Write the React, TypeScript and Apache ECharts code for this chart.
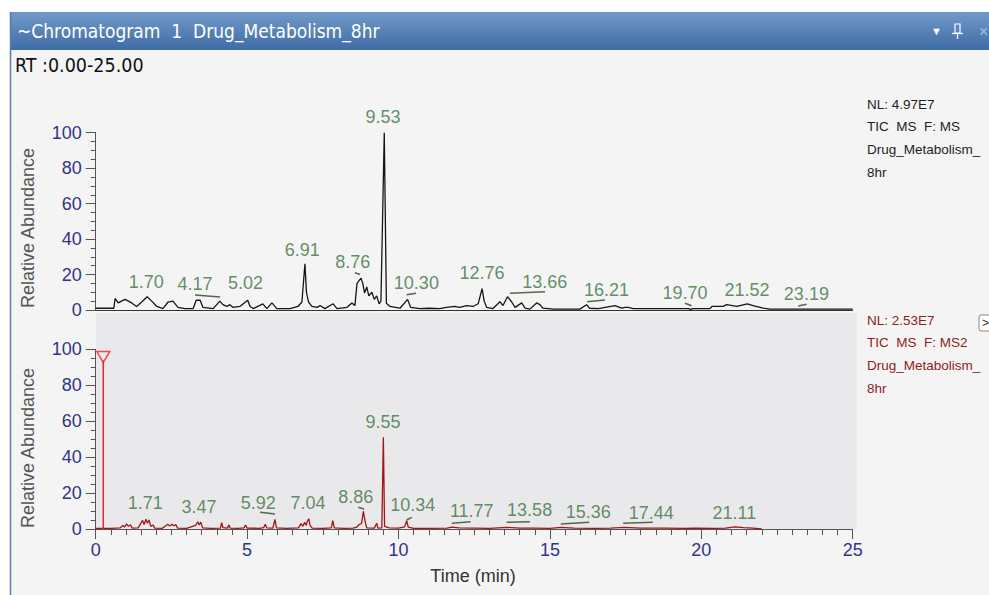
import React, { useEffect, useRef } from "react";
import * as echarts from "echarts";

// ---------- data ----------
const topTrace: [number, number][] = [
  [0.0, 1], [0.6, 1], [0.64, 6.5], [0.74, 4], [0.97, 6], [1.19, 4], [1.35, 2], [1.52, 4.5],
  [1.7, 7.5], [1.85, 5], [2.02, 2], [2.22, 0.8], [2.39, 4.5], [2.55, 5], [2.72, 1.5], [2.95, 0.8],
  [3.22, 0.8], [3.32, 5.5], [3.45, 5.5], [3.54, 1.5], [3.88, 0.8], [4.1, 5], [4.2, 3], [4.33, 2],
  [4.43, 3], [4.53, 1.5], [4.76, 2], [5.02, 5.5], [5.1, 2], [5.2, 0.8], [5.52, 3.5], [5.65, 0.8],
  [5.82, 4], [5.98, 0.8], [6.42, 0.8], [6.68, 2], [6.81, 4.5], [6.91, 26], [6.96, 10], [7.03, 4.5],
  [7.14, 2], [7.31, 1.5], [7.41, 2.5], [7.57, 0.8], [7.84, 3.5], [7.97, 0.8], [8.3, 1.5], [8.46, 4],
  [8.56, 2.5], [8.63, 15], [8.76, 18], [8.82, 15], [8.88, 9.5], [8.95, 13], [9.02, 8], [9.12, 10],
  [9.2, 6], [9.28, 8], [9.36, 3.5], [9.42, 5], [9.53, 100], [9.6, 3.8], [9.72, 2], [9.9, 1.5],
  [10.05, 1], [10.3, 6], [10.4, 1.5], [10.71, 0.8], [11.0, 1], [11.37, 0.8], [11.58, 1.5], [11.86, 2],
  [12.02, 1.5], [12.25, 2.5], [12.46, 2], [12.63, 3.5], [12.76, 12], [12.83, 5], [12.91, 1.5], [13.12, 0.8],
  [13.35, 4.7], [13.45, 2.5], [13.6, 7.5], [13.74, 4.5], [13.85, 1.5], [14.07, 4], [14.18, 1], [14.34, 0.5],
  [14.56, 4], [14.67, 3], [14.77, 1], [15.11, 0.5], [15.55, 0.5], [15.99, 0.5], [16.21, 3], [16.31, 1],
  [16.6, 0.8], [17.15, 2.5], [17.37, 1], [17.48, 1.5], [17.59, 1.5], [17.75, 0.8], [19.6, 0.8], [19.65, 0],
  [19.7, 0.8], [20.29, 0.8], [20.35, 2], [20.72, 2], [20.84, 3], [21.17, 2], [21.52, 3.5], [21.71, 2.5],
  [22.04, 1], [22.27, 0.5], [25.0, 0.5],
];

const bottomTrace: [number, number][] = [
  [0, 0.3], [0.3, 0.4], [0.5, 0.3], [0.8, 0.6], [0.9, 2.0], [0.95, 1.0], [1.02, 2.8], [1.08, 1.5],
  [1.15, 2.4], [1.2, 0.5], [1.4, 0.6], [1.55, 4.8], [1.6, 2.5], [1.66, 5.5], [1.71, 3.2], [1.76, 5.0],
  [1.82, 1.5], [1.9, 2.2], [1.95, 0.5], [2.2, 0.4], [2.38, 2.6], [2.45, 1.6], [2.52, 2.6], [2.58, 1.8],
  [2.65, 2.4], [2.7, 0.5], [3.0, 0.4], [3.3, 2.0], [3.37, 4.0], [3.42, 2.2], [3.47, 3.8], [3.53, 0.6],
  [3.8, 0.4], [4.12, 0.5], [4.16, 3.6], [4.2, 0.8], [4.35, 0.5], [4.4, 2.3], [4.44, 0.5], [4.7, 0.4],
  [4.9, 0.6], [4.95, 2.2], [5.0, 0.5], [5.4, 0.4], [5.55, 0.8], [5.6, 2.6], [5.65, 0.6], [5.85, 0.5],
  [5.92, 5.4], [5.97, 0.6], [6.3, 0.4], [6.7, 0.6], [6.78, 3.0], [6.84, 1.5], [6.9, 3.8], [6.95, 2.0],
  [7.0, 4.8], [7.04, 5.6], [7.08, 2.0], [7.15, 0.5], [7.5, 0.4], [7.78, 0.6], [7.83, 4.6], [7.88, 0.6],
  [8.2, 0.4], [8.5, 0.5], [8.62, 1.0], [8.7, 2.5], [8.78, 3.0], [8.84, 9.8], [8.9, 4.0], [8.95, 0.6],
  [9.2, 0.5], [9.28, 3.2], [9.32, 0.5], [9.45, 0.6], [9.5, 51], [9.54, 1.5], [9.7, 0.6], [10.0, 0.5],
  [10.2, 1.2], [10.27, 4.6], [10.32, 1.0], [10.5, 0.4], [11.0, 0.4], [11.6, 0.5], [11.77, 1.0], [12.0, 0.6],
  [12.5, 0.5], [13.0, 0.4], [13.58, 0.9], [14.0, 0.5], [14.5, 0.5], [15.0, 0.4], [15.36, 0.9], [15.8, 0.5],
  [16.5, 0.4], [17.0, 0.5], [17.44, 0.9], [18.0, 0.5], [18.8, 0.5], [19.4, 0.4], [19.8, 0.5], [20.4, 0.4],
  [20.8, 0.5], [21.11, 1.2], [21.4, 0.8], [21.7, 0.5], [22.0, 0.0],
];

const topLabelText = ["1.70", "4.17", "5.02", "6.91", "8.76", "9.53", "10.30", "12.76", "13.66", "16.21", "19.70", "21.52", "23.19"];
const topLabelX = [1.67, 3.28, 4.95, 6.82, 8.49, 9.49, 10.59, 12.76, 14.83, 16.87, 19.46, 21.51, 23.47];
const topLabelY = [16.0, 14.7, 15.4, 33.8, 26.9, 108.9, 15.4, 20.7, 16.0, 11.3, 9.8, 11.3, 9.0];

const bottomLabelText = ["1.71", "3.47", "5.92", "7.04", "8.86", "9.55", "10.34", "11.77", "13.58", "15.36", "17.44", "21.11"];
const bottomLabelX = [1.64, 3.41, 5.37, 7.01, 8.59, 9.49, 10.47, 12.42, 14.33, 16.27, 18.35, 21.09];
const bottomLabelY = [14.3, 12.4, 14.6, 14.6, 18.0, 59.4, 13.4, 10.2, 10.6, 9.6, 8.7, 9.1];

// baseline-annotation segments [t1, v1, t2, v2]
const topUnderlines = [
  [8.56, 21, 8.73, 20], [3.28, 8.5, 4.11, 7.3], [10.27, 8.6, 10.58, 9.4], [13.68, 9.4, 14.84, 10.3],
  [16.23, 4.7, 16.82, 5.6], [19.46, 3.8, 19.68, 2.4], [23.2, 2.3, 23.48, 3.2],
];
const bottomUnderlines = [
  [5.43, 9.3, 5.92, 8.3], [8.67, 12.1, 8.86, 11.1], [10.27, 5.0, 10.44, 6.5], [11.76, 3.2, 12.38, 4.1],
  [13.57, 3.7, 14.34, 4.1], [15.36, 2.8, 16.3, 3.7], [17.42, 3.2, 18.4, 3.7],
];

const markerRT = 0.25;
const markerTop = 95.7;

const topInfo = ["NL: 4.97E7", "TIC  MS  F: MS", "Drug_Metabolism_", "8hr"];
const bottomInfo = ["NL: 2.53E7", "TIC  MS  F: MS2", "Drug_Metabolism_", "8hr"];
const titleText = "~Chromatogram  1  Drug_Metabolism_8hr";
const rangeText = "RT :0.00-25.00";

// ---------- styles ----------
const FONT = "'Liberation Sans', Arial, sans-serif";
const NARROW = "'Liberation Sans Narrow', 'DejaVu Sans Condensed', 'Liberation Sans', sans-serif";
const NAVY = "#33338a";
const PEAK = "#3b7340";

export default function App() {
  const ref = useRef<HTMLDivElement>(null);
  useEffect(() => {
    if (!ref.current) return;
    const chart = echarts.init(ref.current, null, { renderer: "svg" });

    const gridL = 95.7;
    const gridW = 757;
    const baseX = {
      type: "value",
      min: 0,
      max: 25,
      interval: 5,
      splitLine: { show: false },
    };
    const baseY = {
      type: "value",
      min: 0,
      max: 100,
      interval: 20,
      splitLine: { show: false },
      axisLine: { show: true, lineStyle: { color: "#555", width: 1 } },
      axisTick: { show: true, length: 10, lineStyle: { color: "#555" } },
      minorTick: { show: true, splitNumber: 4, length: 5, lineStyle: { color: "#555" } },
      axisLabel: { color: NAVY, fontSize: 18, fontFamily: FONT, margin: 14 },
    };

    const labelSeries = (xs: number[], ys: number[], texts: string[], idx: number) => ({
      type: "scatter",
      xAxisIndex: idx,
      yAxisIndex: idx,
      silent: true,
      clip: false,
      symbolSize: 1,
      itemStyle: { color: "transparent" },
      z: 5,
      data: xs.map((x, i) => ({ value: [x, ys[i]], name: texts[i] })),
      label: {
        show: true,
        position: "inside",
        formatter: "{b}",
        color: PEAK,
        fontSize: 18,
        fontFamily: FONT,
        align: "center",
        verticalAlign: "middle",
      },
    });

    const underlineSeries = (segs: number[][], idx: number) => ({
      type: "lines",
      coordinateSystem: "cartesian2d",
      xAxisIndex: idx,
      yAxisIndex: idx,
      silent: true,
      lineStyle: { color: "#56664a", width: 1.5, opacity: 1 },
      data: segs.map((s) => ({ coords: [[s[0], s[1]], [s[2], s[3]]] })),
    });

    const info = (lines: string[], y0: number, color: string) =>
      lines.map((t, i) => ({
        type: "text",
        x: 867,
        y: y0 + i * 22.7,
        z: 10,
        style: { text: t, fill: color, fontSize: 13.5, fontFamily: FONT, verticalAlign: "middle", align: "left" },
      }));

    const option: any = {
      animation: false,
      backgroundColor: "#ffffff",
      grid: [
        { left: gridL, top: 132.7, width: gridW, height: 177.3 },
        { left: gridL, top: 349.3, width: gridW, height: 179.7 },
      ],
      xAxis: [
        {
          ...baseX,
          gridIndex: 0,
          axisLine: { show: true, lineStyle: { color: "#333", width: 1 } },
          axisTick: { show: false },
          axisLabel: { show: false },
        },
        {
          ...baseX,
          gridIndex: 1,
          axisLine: { show: true, lineStyle: { color: "#555", width: 1 } },
          axisTick: { show: true, length: 10, lineStyle: { color: "#555" } },
          minorTick: { show: true, splitNumber: 10, length: 6, lineStyle: { color: "#555" } },
          axisLabel: { color: NAVY, fontSize: 18, fontFamily: FONT, margin: 12 },
        },
      ],
      yAxis: [
        { ...baseY, gridIndex: 0 },
        { ...baseY, gridIndex: 1 },
      ],
      graphic: [
        { type: "rect", z: -20, shape: { x: 10, y: 12, width: 979, height: 583 }, style: { fill: "#f4f4f4" } },
        { type: "rect", z: -19, shape: { x: 96, y: 313, width: 761, height: 216 }, style: { fill: "#e9e9eb" } },
        {
          type: "rect",
          z: -18,
          shape: { x: 10, y: 12, width: 979, height: 38 },
          style: {
            fill: new echarts.graphic.LinearGradient(0, 0, 0, 1, [
              { offset: 0, color: "#7299c9" },
              { offset: 1, color: "#3f6ca5" },
            ]),
          },
        },
        { type: "line", z: -17, shape: { x1: 10.5, y1: 12, x2: 10.5, y2: 595 }, style: { stroke: "#5a7cab", lineWidth: 1.5 } },
        {
          type: "text",
          x: 17,
          y: 31,
          z: 10,
          style: { text: titleText, fill: "#ffffff", fontSize: 19, fontFamily: NARROW, verticalAlign: "middle" },
        },
        { type: "text", x: 931, y: 31, z: 10, style: { text: "▼", fill: "#ffffff", fontSize: 11, fontFamily: FONT, verticalAlign: "middle" } },
        { type: "rect", z: 10, shape: { x: 955, y: 24, width: 5, height: 9 }, style: { fill: "none", stroke: "#ffffff", lineWidth: 1.2 } },
        { type: "line", z: 10, shape: { x1: 952, y1: 33.5, x2: 963, y2: 33.5 }, style: { stroke: "#ffffff", lineWidth: 1.2 } },
        { type: "line", z: 10, shape: { x1: 957.5, y1: 33.5, x2: 957.5, y2: 39 }, style: { stroke: "#ffffff", lineWidth: 1.2 } },
        { type: "text", x: 979, y: 31, z: 10, style: { text: "×", fill: "#a9bfdc", fontSize: 16, fontFamily: FONT, verticalAlign: "middle" } },
        {
          type: "text",
          x: 15,
          y: 65,
          z: 10,
          style: { text: rangeText, fill: "#111", fontSize: 19.5, fontFamily: NARROW, verticalAlign: "middle" },
        },
        {
          type: "text",
          x: 27.5,
          y: 228,
          rotation: Math.PI / 2,
          z: 10,
          style: { text: "Relative Abundance", fill: "#555", fontSize: 18, fontFamily: FONT, align: "center", verticalAlign: "middle" },
        },
        {
          type: "text",
          x: 27.5,
          y: 448,
          rotation: Math.PI / 2,
          z: 10,
          style: { text: "Relative Abundance", fill: "#555", fontSize: 18, fontFamily: FONT, align: "center", verticalAlign: "middle" },
        },
        {
          type: "text",
          x: 473,
          y: 576,
          z: 10,
          style: { text: "Time (min)", fill: "#333", fontSize: 18, fontFamily: FONT, align: "center", verticalAlign: "middle" },
        },
        ...info(topInfo, 104, "#1e1e1e"),
        ...info(bottomInfo, 320, "#8e1d1d"),
        { type: "rect", z: 10, shape: { x: 979, y: 315, width: 14, height: 16, r: 2 }, style: { fill: "#ffffff", stroke: "#888", lineWidth: 1 } },
        { type: "text", x: 982, y: 323, z: 11, style: { text: ">", fill: "#333", fontSize: 12, fontFamily: FONT, verticalAlign: "middle" } },
      ],
      series: [
        {
          type: "line",
          xAxisIndex: 0,
          yAxisIndex: 0,
          data: topTrace,
          symbol: "none",
          silent: true,
          lineStyle: { color: "#151515", width: 1.3 },
          z: 3,
        },
        {
          type: "line",
          xAxisIndex: 1,
          yAxisIndex: 1,
          data: bottomTrace,
          symbol: "none",
          silent: true,
          lineStyle: { color: "#a01515", width: 1.3 },
          z: 3,
        },
        {
          type: "line",
          xAxisIndex: 1,
          yAxisIndex: 1,
          data: [[markerRT, 0], [markerRT, markerTop - 2]],
          symbol: "none",
          silent: true,
          lineStyle: { color: "#e8262a", width: 1.5 },
          z: 4,
        },
        {
          type: "scatter",
          xAxisIndex: 1,
          yAxisIndex: 1,
          data: [[markerRT, markerTop]],
          symbol: "triangle",
          symbolRotate: 180,
          symbolSize: [13, 11],
          silent: true,
          itemStyle: { color: "transparent", borderColor: "#e8262a", borderWidth: 1.5 },
          z: 5,
        },
        underlineSeries(topUnderlines, 0),
        underlineSeries(bottomUnderlines, 1),
        labelSeries(topLabelX, topLabelY, topLabelText, 0),
        labelSeries(bottomLabelX, bottomLabelY, bottomLabelText, 1),
      ],
    };

    chart.setOption(option);
    return () => chart.dispose();
  }, []);

  return <div ref={ref} style={{ position: "absolute", left: 0, top: 0, width: 989, height: 595 }} />;
}
